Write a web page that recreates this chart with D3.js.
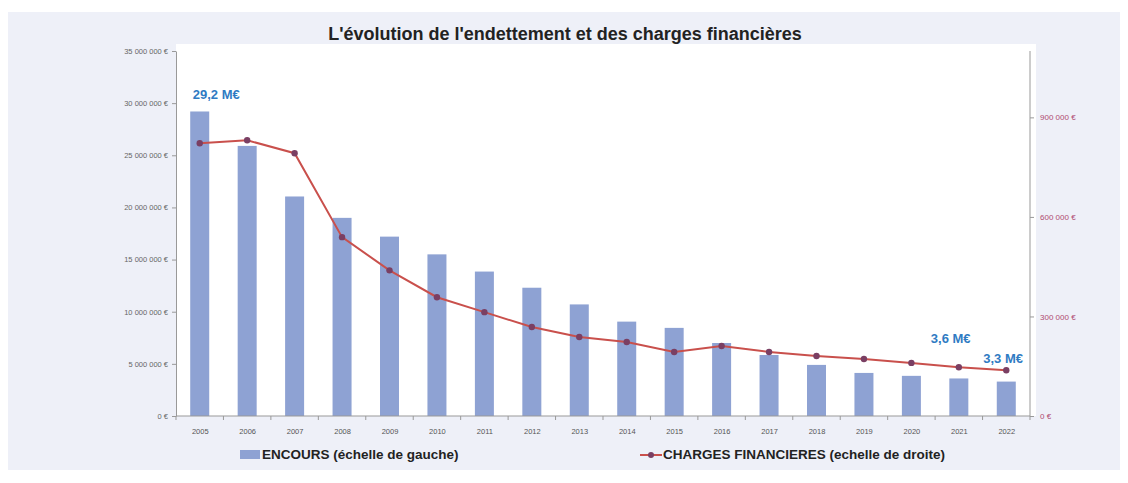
<!DOCTYPE html>
<html><head><meta charset="utf-8">
<script src="https://cdn.jsdelivr.net/npm/d3@7"></script>
<style>body{margin:0;background:#fff;}svg{display:block;}</style>
</head><body>
<script>
const years = ["2005","2006","2007","2008","2009","2010","2011","2012","2013","2014","2015","2016","2017","2018","2019","2020","2021","2022"];
const encours = [29200000,25900000,21050000,19000000,17200000,15500000,13850000,12300000,10700000,9050000,8450000,7000000,5850000,4900000,4130000,3850000,3600000,3300000];
const charges = [822000,831000,792000,539000,439000,358000,313000,268000,238000,223000,193000,211000,193000,181000,172000,160000,147000,138000];
const leftTicks = [0,5000000,10000000,15000000,20000000,25000000,30000000,35000000];
const rightTicks = [0,300000,600000,900000];
const annotations = [{i:0, text:"29,2 M€"},{i:16, text:"3,6 M€"},{i:17, text:"3,3 M€"}];
const title = "L'évolution de l'endettement et des charges financières";
const legendLabels = ["ENCOURS (échelle de gauche)", "CHARGES FINANCIERES (echelle de droite)"];

const W=1128,H=483;
const svg=d3.select("body").append("svg").attr("width",W).attr("height",H);
svg.append("rect").attr("x",8).attr("y",12).attr("width",1112).attr("height",458).attr("fill","#eef0f8");
const L=176,R=1030,T=51,B=416;
svg.append("rect").attr("x",L).attr("y",44).attr("width",R-L+6).attr("height",B-44).attr("fill","#ffffff");

const xp=d3.scalePoint().domain(years).range([L,R]).padding(0.5);
const yL=d3.scaleLinear().domain([0,35000000]).range([B,T]);
const yR=d3.scaleLinear().domain([0,1100000]).range([B,T]);
const fmt=v=>d3.format(",")(v).replace(/,/g," ")+" €";
const FONT="Liberation Sans, Arial, sans-serif";

svg.append("text").attr("x",565).attr("y",40).attr("text-anchor","middle")
 .attr("font-family","Liberation Sans Narrow, Arial Narrow, sans-serif").attr("font-weight","bold").attr("font-size",18).attr("fill","#222").text(title);

// bars
svg.selectAll("rect.bar").data(encours).join("rect").attr("class","bar")
 .attr("x",(d,i)=>xp(years[i])-9.5).attr("width",19)
 .attr("y",d=>yL(d)).attr("height",d=>B-yL(d)).attr("fill","#8ea2d3");

// left axis
const gl=svg.append("g").attr("transform",`translate(${L},0)`)
 .call(d3.axisLeft(yL).tickValues(leftTicks).tickFormat(fmt).tickSize(4).tickSizeOuter(0));
gl.select(".domain").attr("stroke","#999");
gl.selectAll(".tick line").attr("stroke","#999");
gl.selectAll("text").attr("font-family",FONT).attr("font-size",7.5).attr("fill","#666").attr("x",-8);

// right axis
const gr=svg.append("g").attr("transform",`translate(${R},0)`)
 .call(d3.axisRight(yR).tickValues(rightTicks).tickFormat(fmt).tickSize(4).tickSizeOuter(0));
gr.select(".domain").attr("stroke","#999").attr("d",`M0,${B}V${T}`);
gr.selectAll(".tick line").attr("stroke","#999");
gr.selectAll("text").attr("font-family",FONT).attr("font-size",8).attr("fill","#b04a70").attr("x",10);

// x axis
const gx=svg.append("g").attr("transform",`translate(0,${B})`)
 .call(d3.axisBottom(xp).tickSize(0));
gx.select(".domain").attr("stroke","#999").attr("d",`M${L},0H${R}`);
gx.selectAll("text").attr("font-family",FONT).attr("font-size",7.5).attr("fill","#555").attr("y",13);
const step=xp.step();
svg.append("g").selectAll("line").data(d3.range(years.length+1)).join("line")
 .attr("x1",i=>L+i*step).attr("x2",i=>L+i*step).attr("y1",B).attr("y2",B+4).attr("stroke","#999");

// line
const line=d3.line().x((d,i)=>xp(years[i])).y(d=>yR(d));
svg.append("path").datum(charges).attr("d",line).attr("fill","none").attr("stroke","#c9504c").attr("stroke-width",2);
svg.selectAll("circle.pt").data(charges).join("circle").attr("class","pt")
 .attr("cx",(d,i)=>xp(years[i])).attr("cy",d=>yR(d)).attr("r",3.2).attr("fill","#7a3f63");

// annotations
const annX={0:xp(years[0])-7, 16:xp(years[16])-28, 17:xp(years[17])-23};
const annY={0:yL(encours[0])-12, 16:yR(charges[16])-24, 17:yR(charges[17])-7};
svg.selectAll("text.ann").data(annotations).join("text").attr("class","ann")
 .attr("x",d=>annX[d.i]).attr("y",d=>annY[d.i])
 .attr("font-family",FONT).attr("font-weight","bold").attr("font-size",13).attr("fill","#2f7bc3").text(d=>d.text);

// legend
const lg=svg.append("g").attr("font-family","Liberation Sans Narrow, Arial Narrow, sans-serif").attr("font-size",13.5).attr("fill","#222");
lg.append("rect").attr("x",240).attr("y",450).attr("width",20).attr("height",9).attr("fill","#8ea2d3");
lg.append("text").attr("x",262).attr("y",459).attr("font-weight","bold").text(legendLabels[0]);
lg.append("line").attr("x1",640).attr("x2",662).attr("y1",455).attr("y2",455).attr("stroke","#c9504c").attr("stroke-width",2);
lg.append("circle").attr("cx",651).attr("cy",455).attr("r",3).attr("fill","#7a3f63");
lg.append("text").attr("x",663).attr("y",459).attr("font-weight","bold").text(legendLabels[1]);
</script>
</body></html>
